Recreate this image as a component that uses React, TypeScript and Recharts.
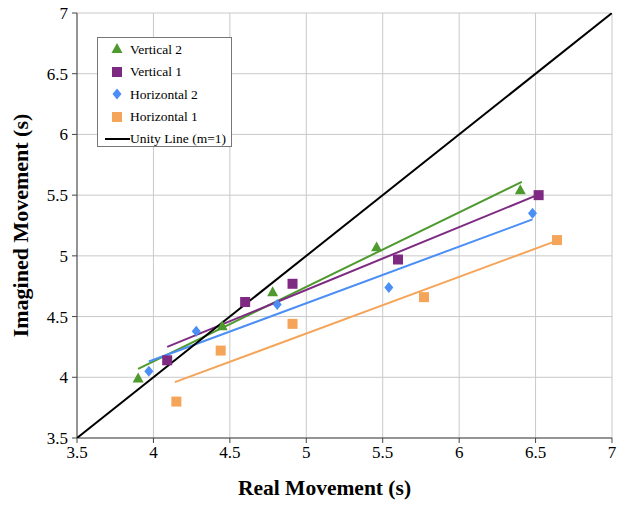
import React from 'react';
import { ComposedChart, Scatter, XAxis, YAxis, CartesianGrid, Legend, Label } from 'recharts';

const ticks = [3.5, 4, 4.5, 5, 5.5, 6, 6.5, 7];

const vertical2X = [3.9, 4.45, 4.78, 5.46, 6.4];
const vertical2Y = [3.99, 4.42, 4.7, 5.07, 5.54];
const vertical1X = [4.09, 4.6, 4.91, 5.6, 6.52];
const vertical1Y = [4.14, 4.62, 4.77, 4.97, 5.5];
const horizontal2X = [3.97, 4.28, 4.81, 5.54, 6.48];
const horizontal2Y = [4.05, 4.38, 4.6, 4.74, 5.35];
const horizontal1X = [4.15, 4.44, 4.91, 5.77, 6.64];
const horizontal1Y = [3.8, 4.22, 4.44, 4.66, 5.13];

const vertical2TrendX = [3.9, 6.41];
const vertical2TrendY = [4.07, 5.61];
const vertical1TrendX = [4.09, 6.51];
const vertical1TrendY = [4.25, 5.5];
const horizontal2TrendX = [3.97, 6.48];
const horizontal2TrendY = [4.13, 5.3];
const horizontal1TrendX = [4.14, 6.65];
const horizontal1TrendY = [3.96, 5.13];
const unityX = [3.5, 7];
const unityY = [3.5, 7];

const zip = (xs: number[], ys: number[]) => xs.map((x, i) => ({ x, y: ys[i] }));

const FONT = '"Liberation Serif", "DejaVu Serif", serif';

const Triangle = (p: any) => {
  const { cx, cy, fill } = p;
  const s = 11;
  const h = s * 0.9;
  return <polygon points={`${cx},${cy - h * 0.6} ${cx + s / 2},${cy + h * 0.4} ${cx - s / 2},${cy + h * 0.4}`} fill={fill} />;
};
const Square = (p: any) => {
  const { cx, cy, fill } = p;
  const s = 10;
  return <rect x={cx - s / 2} y={cy - s / 2} width={s} height={s} fill={fill} />;
};
const Diamond = (p: any) => {
  const { cx, cy, fill } = p;
  const w = 4.5;
  const h = 5.5;
  return <polygon points={`${cx},${cy - h} ${cx + w},${cy} ${cx},${cy + h} ${cx - w},${cy}`} fill={fill} />;
};
const Nothing = () => <g />;

const series = [
  { name: 'Vertical 2', color: '#4e9a2e', shape: Triangle, xs: vertical2X, ys: vertical2Y, tx: vertical2TrendX, ty: vertical2TrendY },
  { name: 'Vertical 1', color: '#7e2a82', shape: Square, xs: vertical1X, ys: vertical1Y, tx: vertical1TrendX, ty: vertical1TrendY },
  { name: 'Horizontal 2', color: '#4b8ef5', shape: Diamond, xs: horizontal2X, ys: horizontal2Y, tx: horizontal2TrendX, ty: horizontal2TrendY },
  { name: 'Horizontal 1', color: '#f5a55a', shape: Square, xs: horizontal1X, ys: horizontal1Y, tx: horizontal1TrendX, ty: horizontal1TrendY },
];

const LegendBox = () => (
  <div
    style={{
      border: '1.5px solid #777',
      background: '#fff',
      width: 135,
      height: 110,
      boxSizing: 'border-box',
      fontFamily: FONT,
      fontSize: 13.5,
      color: '#000',
      paddingTop: 0,
      lineHeight: 1,
    }}
  >
    {series.map((s) => (
      <div key={s.name} style={{ display: 'flex', alignItems: 'center', height: 22.5 }}>
        <svg width={32} height={16} style={{ flex: 'none' }}>
          <s.shape cx={19} cy={8} fill={s.color} />
        </svg>
        <span>{s.name}</span>
      </div>
    ))}
    <div style={{ display: 'flex', alignItems: 'center', height: 22 }}>
      <svg width={32} height={16} style={{ flex: 'none' }}>
        <line x1={7} y1={8} x2={32} y2={8} stroke="#000" strokeWidth={2} />
      </svg>
      <span>Unity Line (m=1)</span>
    </div>
  </div>
);

export default function App() {
  return (
    <div style={{ position: 'absolute', left: 0, top: 0, background: '#fff' }}>
      <ComposedChart width={624} height={508} margin={{ top: 13, right: 12, bottom: 0, left: 0 }}>
        <CartesianGrid stroke="#c9c9c9" strokeWidth={1} />
        <XAxis
          type="number"
          dataKey="x"
          domain={[3.5, 7]}
          ticks={ticks}
          height={70}
          allowDataOverflow
          stroke="#444"
          tickSize={5}
          tickMargin={3}
          tick={{ fill: '#000', fontFamily: FONT, fontSize: 17 }}
        >
          <Label
            content={(props: any) => {
              const vb = props.viewBox;
              return (
                <text x={vb.x + vb.width / 2 - 20} y={vb.y + 50} textAnchor="middle" dominantBaseline="central" fontFamily={FONT} fontSize={21.5} fontWeight="bold" fill="#000">
                  Real Movement (s)
                </text>
              );
            }}
          />
        </XAxis>
        <YAxis
          type="number"
          dataKey="y"
          domain={[3.5, 7]}
          ticks={ticks}
          width={77}
          allowDataOverflow
          stroke="#444"
          tickSize={5}
          tickMargin={4}
          tick={{ fill: '#000', fontFamily: FONT, fontSize: 17 }}
        >
          <Label
            content={(props: any) => {
              const vb = props.viewBox;
              const cx = vb.x + 20;
              const cy = vb.y + vb.height / 2;
              return (
                <text x={cx} y={cy} transform={`rotate(-90 ${cx} ${cy})`} textAnchor="middle" dominantBaseline="central" fontFamily={FONT} fontSize={22} fontWeight="bold" fill="#000">
                  Imagined Movement (s)
                </text>
              );
            }}
          />
        </YAxis>
        <Legend
          layout="horizontal"
          align="center"
          verticalAlign="middle"
          wrapperStyle={{ left: 97, top: 37, width: 135, height: 110 }}
          content={() => <LegendBox />}
        />
        {series.map((s) => (
          <Scatter
            key={s.name + '-trend'}
            data={zip(s.tx, s.ty)}
            line={{ stroke: s.color, strokeWidth: 2 }}
            shape={Nothing}
            legendType="none"
            isAnimationActive={false}
          />
        ))}
        <Scatter
          data={zip(unityX, unityY)}
          line={{ stroke: '#000', strokeWidth: 2 }}
          shape={Nothing}
          legendType="none"
          isAnimationActive={false}
        />
        {series.map((s) => (
          <Scatter
            key={s.name}
            name={s.name}
            data={zip(s.xs, s.ys)}
            fill={s.color}
            shape={s.shape}
            isAnimationActive={false}
          />
        ))}
      </ComposedChart>
    </div>
  );
}
